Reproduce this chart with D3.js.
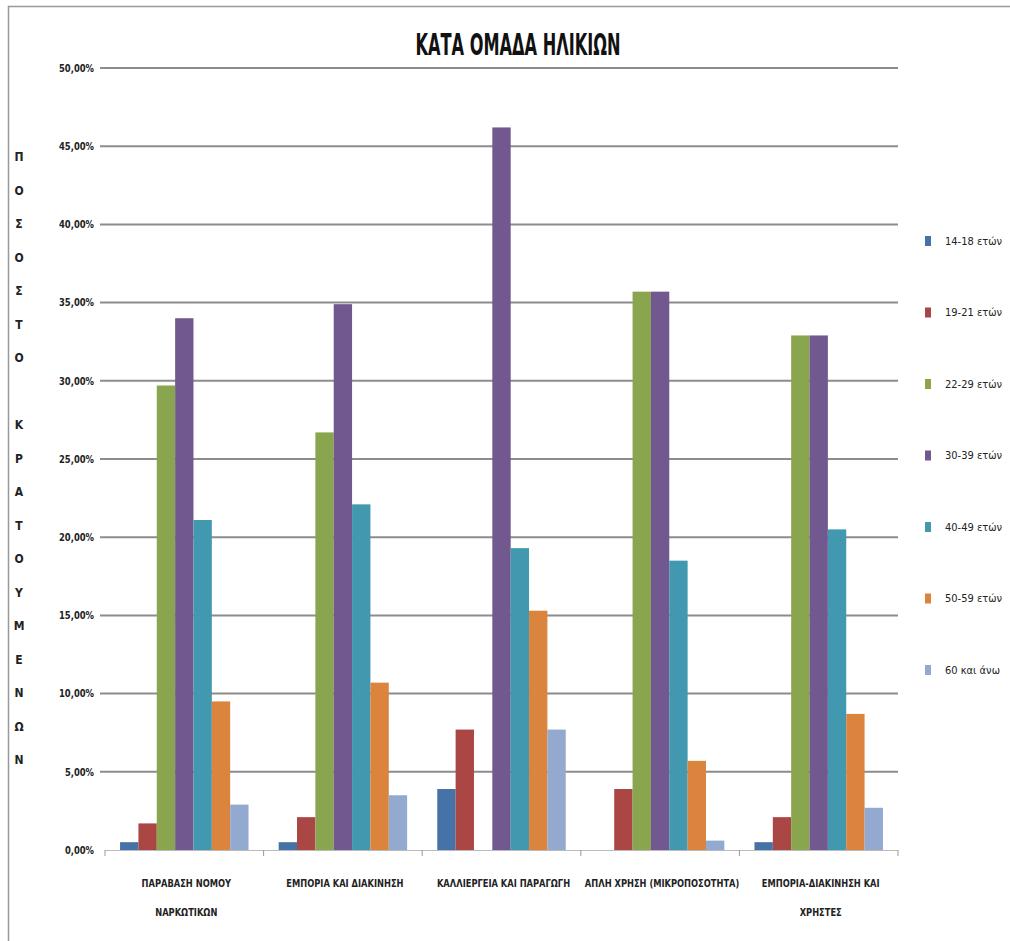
<!DOCTYPE html>
<html><head><meta charset="utf-8">
<script src="https://cdn.jsdelivr.net/npm/d3@7"></script>
<style>
html,body{margin:0;padding:0;background:#fff;}
text{font-family:"Liberation Sans Narrow","DejaVu Sans Condensed","Liberation Sans",sans-serif;}
</style></head>
<body>
<svg id="chart" width="1010" height="941"></svg>
<script>
const title = "ΚΑΤΑ ΟΜΑΔΑ ΗΛΙΚΙΩΝ";
const yTitle = "ΠΟΣΟΣΤΟ ΚΡΑΤΟΥΜΕΝΩΝ";
const categories = [
  ["ΠΑΡΑΒΑΣΗ ΝΟΜΟΥ", "ΝΑΡΚΩΤΙΚΩΝ"],
  ["ΕΜΠΟΡΙΑ ΚΑΙ ΔΙΑΚΙΝΗΣΗ"],
  ["ΚΑΛΛΙΕΡΓΕΙΑ ΚΑΙ ΠΑΡΑΓΩΓΗ"],
  ["ΑΠΛΗ ΧΡΗΣΗ (ΜΙΚΡΟΠΟΣΟΤΗΤΑ)"],
  ["ΕΜΠΟΡΙΑ-ΔΙΑΚΙΝΗΣΗ ΚΑΙ", "ΧΡΗΣΤΕΣ"]
];
const seriesNames = ["14-18 ετών", "19-21 ετών", "22-29 ετών", "30-39 ετών", "40-49 ετών", "50-59 ετών", "60 και άνω"];
const seriesColors = ["#4572a7", "#aa4643", "#89a54e", "#71588f", "#4198af", "#db843d", "#93a9cf"];
const v14_18 = [0.5, 0.5, 3.9, 0, 0.5];
const v19_21 = [1.7, 2.1, 7.7, 3.9, 2.1];
const v22_29 = [29.7, 26.7, 0, 35.7, 32.9];
const v30_39 = [34.0, 34.9, 46.2, 35.7, 32.9];
const v40_49 = [21.1, 22.1, 19.3, 18.5, 20.5];
const v50_59 = [9.5, 10.7, 15.3, 5.7, 8.7];
const v60 = [2.9, 3.5, 7.7, 0.6, 2.7];
const yTicks = [0, 5, 10, 15, 20, 25, 30, 35, 40, 45, 50];

const seriesValues = [v14_18, v19_21, v22_29, v30_39, v40_49, v50_59, v60];
const svg = d3.select("#chart");

// border
svg.append("line").attr("x1", 8).attr("x2", 1010).attr("y1", 6.5).attr("y2", 6.5).attr("stroke", "#999").attr("stroke-width", 1.5);
svg.append("line").attr("x1", 8.5).attr("x2", 8.5).attr("y1", 6).attr("y2", 941).attr("stroke", "#999").attr("stroke-width", 1.5);

const plotL = 105, plotR = 898;
const y = d3.scaleLinear().domain([0, 50]).range([850, 68]);
const catIdx = categories.map((c, i) => i);
const x0 = d3.scaleBand().domain(catIdx).range([plotL, plotR]).paddingInner(0.19).paddingOuter(0.095);
const x1 = d3.scaleBand().domain(seriesNames).range([0, x0.bandwidth()]);

// gridlines
svg.append("g").selectAll("line").data(yTicks.filter(d => d > 0)).join("line")
  .attr("x1", 100).attr("x2", plotR)
  .attr("y1", d => y(d)).attr("y2", d => y(d))
  .attr("stroke", "#8c8c8c").attr("stroke-width", 2);

// y labels
const fmt = d3.format(".2f");
svg.append("g").selectAll("text").data(yTicks).join("text")
  .attr("transform", d => `translate(94, ${y(d)}) scale(0.85, 1)`)
  .attr("dy", "0.35em")
  .attr("text-anchor", "end").attr("font-size", 11).attr("font-weight", "bold").attr("fill", "#222")
  .text(d => fmt(d).replace(".", ",") + "%");

// bars
const gs = svg.append("g").selectAll("g").data(seriesNames).join("g")
  .attr("fill", (d, i) => seriesColors[i]);
gs.selectAll("rect").data((d, i) => seriesValues[i].map((v, c) => ({s: d, c, v}))).join("rect")
  .attr("x", d => x0(d.c) + x1(d.s))
  .attr("width", x1.bandwidth())
  .attr("y", d => y(d.v))
  .attr("height", d => y(0) - y(d.v));

// baseline and ticks
svg.append("line").attr("x1", plotL).attr("x2", plotR).attr("y1", 850.5).attr("y2", 850.5).attr("stroke", "#bbb").attr("stroke-width", 1);
const step = x0.step();
svg.append("g").selectAll("line").data(d3.range(categories.length + 1)).join("line")
  .attr("x1", i => plotL + i * step).attr("x2", i => plotL + i * step)
  .attr("y1", 850).attr("y2", 856).attr("stroke", "#999");

// category labels
const cl = svg.append("g").selectAll("text").data(categories).join("text")
  .attr("transform", (d, i) => `translate(${x0(i) + x0.bandwidth() / 2 + 2}, 887) scale(0.84, 1)`)
  .attr("text-anchor", "middle").attr("font-size", 11).attr("font-weight", "bold").attr("fill", "#222");
cl.selectAll("tspan").data(d => d).join("tspan")
  .attr("x", 0)
  .attr("dy", (d, i) => i === 0 ? 0 : 29)
  .text(d => d);

// title
svg.append("text").attr("x", 518).attr("y", 55).attr("text-anchor", "middle")
  .attr("font-size", 30).attr("font-weight", "bold").attr("fill", "#111")
  .attr("textLength", 205).attr("lengthAdjust", "spacingAndGlyphs")
  .text(title);

// y title stacked letters
svg.append("g").selectAll("text").data(Array.from(yTitle)).join("text")
  .attr("x", 19).attr("y", (d, i) => 157 + i * 33.5).attr("dy", "0.35em")
  .attr("text-anchor", "middle").attr("font-size", 12).attr("font-weight", "bold").attr("fill", "#222")
  .text(d => d);

// legend
const lg = svg.append("g").selectAll("g").data(seriesNames).join("g")
  .attr("transform", (d, i) => `translate(925, ${241 + i * 71.5})`);
lg.append("rect").attr("x", 0).attr("y", -5).attr("width", 6).attr("height", 10).attr("fill", (d, i) => seriesColors[i]);
lg.append("text").attr("x", 20).attr("y", 0).attr("dy", "0.35em").attr("font-size", 11).attr("fill", "#222").text(d => d);
</script>
</body></html>
